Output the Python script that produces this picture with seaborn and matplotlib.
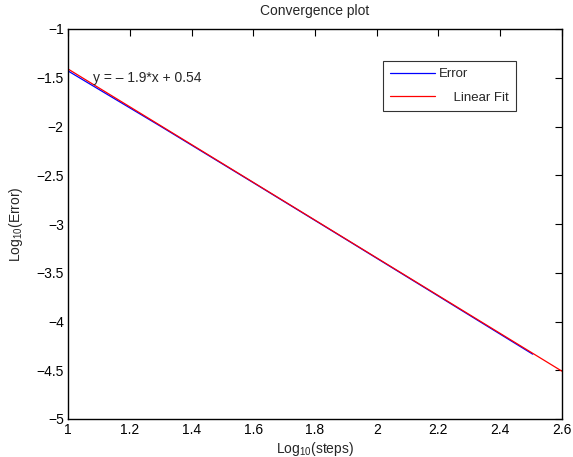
import matplotlib
matplotlib.use("Agg")
import matplotlib.pyplot as plt
import seaborn as sns
import pandas as pd
import numpy as np

# Data
log_steps = [1.0, 1.301, 1.602, 1.903, 2.204, 2.505]
log_error = [-1.43, -2.0, -2.58, -3.163, -3.748, -4.335]
fit_x = [1.0, 2.6]
fit_y = [-1.41, -4.51]
fit_label = "y = \u2013 1.9*x + 0.54"

sns.set_style("white")
plt.rcParams['font.family'] = ['Liberation Sans', 'DejaVu Sans']
plt.rcParams['mathtext.fontset'] = 'custom'
plt.rcParams['mathtext.rm'] = 'Liberation Sans'
plt.rcParams['mathtext.it'] = 'Liberation Sans:italic'

fig = plt.figure(figsize=(5.73, 4.57), dpi=100)
ax = fig.add_axes([68/573, 1 - 419/457, 494/573, 390/457])

df_err = pd.DataFrame({"x": log_steps, "y": log_error})
df_fit = pd.DataFrame({"x": fit_x, "y": fit_y})
sns.lineplot(data=df_err, x="x", y="y", ax=ax, color="blue", lw=0.9, label="Error")
sns.lineplot(data=df_fit, x="x", y="y", ax=ax, color="red", lw=0.9, label="    Linear Fit")

ax.set_xlim(1, 2.6)
ax.set_ylim(-5, -1)
ax.set_xticks(np.arange(1, 2.61, 0.2))
ax.set_xticklabels(["1", "1.2", "1.4", "1.6", "1.8", "2", "2.2", "2.4", "2.6"])
ax.set_yticks(np.arange(-5, -0.99, 0.5))
ax.set_yticklabels(["\u22125", "\u22124.5", "\u22124", "\u22123.5", "\u22123", "\u22122.5", "\u22122", "\u22121.5", "\u22121"])
ax.tick_params(direction="in", top=True, right=True, length=5, width=0.8, labelsize=10, pad=3, colors="black")
for s in ax.spines.values():
    s.set_visible(True)
    s.set_color("black")
    s.set_linewidth(1.0)

ax.set_xlabel(r"Log$_{10}$(steps)", fontsize=10, labelpad=2)
ax.set_ylabel(r"Log$_{10}$(Error)", fontsize=10, labelpad=8)
ax.set_title("Convergence plot", fontsize=10, pad=10)

ax.text(1.08, -1.5, fit_label, fontsize=10, va="center", ha="left")

leg = ax.legend(loc="upper left", bbox_to_anchor=(0.638, 0.918), frameon=True, fancybox=False,
                edgecolor="black", fontsize=9.5, handlelength=3.4, borderpad=0.55,
                labelspacing=0.85, handletextpad=0.3, borderaxespad=0)
leg.get_frame().set_linewidth(0.8)

fig.savefig("out.png", dpi=100, facecolor="white")
